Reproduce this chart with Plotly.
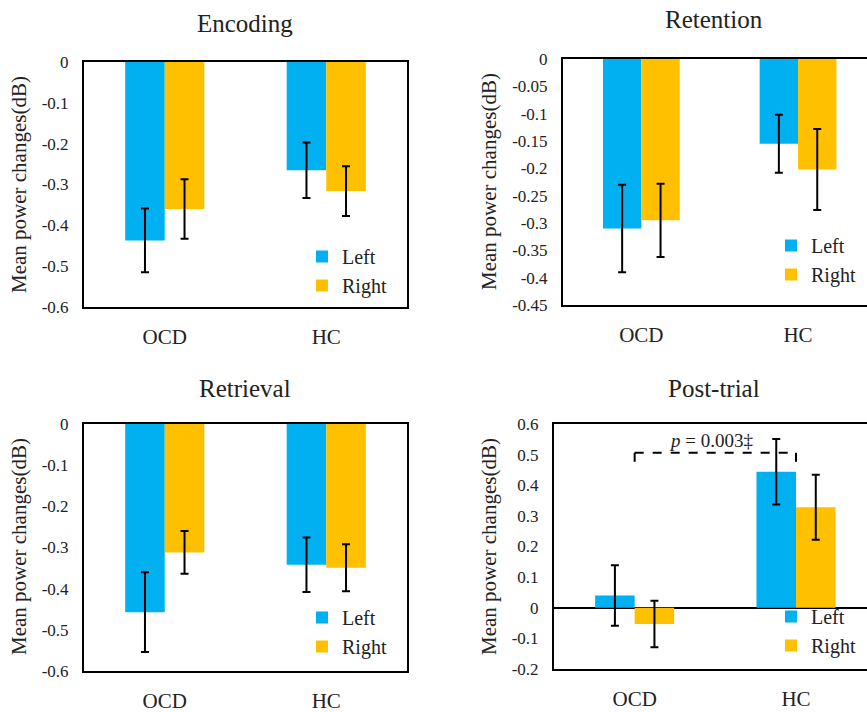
import plotly.graph_objects as go

# ---------------- data ----------------
categories = ["OCD", "HC"]
series_names = ["Left", "Right"]

enc_left = [-0.437, -0.265]
enc_left_err = [0.078, 0.068]
enc_right = [-0.360, -0.316]
enc_right_err = [0.073, 0.061]

ret_left = [-0.310, -0.155]
ret_left_err = [0.080, 0.053]
ret_right = [-0.295, -0.202]
ret_right_err = [0.067, 0.074]

rtv_left = [-0.457, -0.342]
rtv_left_err = [0.097, 0.066]
rtv_right = [-0.312, -0.349]
rtv_right_err = [0.052, 0.057]

post_left = [0.040, 0.444]
post_left_err = [0.099, 0.107]
post_right = [-0.053, 0.328]
post_right_err = [0.076, 0.106]

panel_titles = ["Encoding", "Retention", "Retrieval", "Post-trial"]

ticks_enc = [0, -0.1, -0.2, -0.3, -0.4, -0.5, -0.6]
ticks_enc_text = ["0", "-0.1", "-0.2", "-0.3", "-0.4", "-0.5", "-0.6"]
ticks_ret = [0, -0.05, -0.1, -0.15, -0.2, -0.25, -0.3, -0.35, -0.4, -0.45]
ticks_ret_text = ["0", "-0.05", "-0.1", "-0.15", "-0.2", "-0.25", "-0.3", "-0.35", "-0.4", "-0.45"]
ticks_post = [0.6, 0.5, 0.4, 0.3, 0.2, 0.1, 0, -0.1, -0.2]
ticks_post_text = ["0.6", "0.5", "0.4", "0.3", "0.2", "0.1", "0", "-0.1", "-0.2"]

p_text = "<i>p</i> = 0.003‡"
p_bracket_top = 0.506
p_bracket_end = 0.459

# ---------------- style ----------------
BLUE = "#00B0F0"
GOLD = "#FFC000"
FONT = "'Liberation Serif', 'Times New Roman', Times, serif"
W, H = 867, 712

def px_x(p):
    return p / W

def px_y(p):
    return 1 - p / H

fig = go.Figure()

panels = [
    ("x", "y", "legend", enc_left, enc_left_err, enc_right, enc_right_err),
    ("x2", "y2", "legend2", ret_left, ret_left_err, ret_right, ret_right_err),
    ("x3", "y3", "legend3", rtv_left, rtv_left_err, rtv_right, rtv_right_err),
    ("x4", "y4", "legend4", post_left, post_left_err, post_right, post_right_err),
]

for xa, ya, lg, lv, le, rv, re_ in panels:
    fig.add_trace(go.Bar(
        x=categories, y=lv, name=series_names[0], marker_color=BLUE,
        marker_line_width=0, xaxis=xa, yaxis=ya, legend=lg,
        error_y=dict(type="data", array=le, color="black", thickness=2, width=4),
    ))
    fig.add_trace(go.Bar(
        x=categories, y=rv, name=series_names[1], marker_color=GOLD,
        marker_line_width=0, xaxis=xa, yaxis=ya, legend=lg,
        error_y=dict(type="data", array=re_, color="black", thickness=2, width=4),
    ))

tick_font = dict(family=FONT, size=17, color="#222")
cat_font = dict(family=FONT, size=21, color="#222")

def xaxis(domain, rng):
    return dict(domain=domain, range=rng, type="category", showline=True,
                linecolor="black", linewidth=2, mirror=True, ticks="",
                showgrid=False, zeroline=False, tickfont=cat_font,
                ticklabelstandoff=10, fixedrange=True, automargin=False)

def yaxis(domain, rng, tv, tt, mirror, zeroline=False):
    return dict(domain=domain, range=rng, tickvals=tv, ticktext=tt,
                showline=True, linecolor="black", linewidth=2, mirror=mirror,
                ticks="", showgrid=False, zeroline=zeroline,
                zerolinecolor="black", zerolinewidth=2, automargin=False,
                tickfont=tick_font, ticklabelstandoff=10, fixedrange=True)

fig.update_layout(
    width=W, height=H,
    margin=dict(l=0, r=0, t=0, b=0, pad=0, autoexpand=False),
    paper_bgcolor="white", plot_bgcolor="white",
    barmode="group", bargap=0.51, bargroupgap=0,
    showlegend=True,
    font=dict(family=FONT, color="#222"),
    xaxis=xaxis([px_x(84), px_x(407)], [-0.5, 1.5]),
    yaxis=yaxis([px_y(307), px_y(62)], [-0.6, 0], ticks_enc, ticks_enc_text, True),
    xaxis2=xaxis([px_x(563), 1.0], [-0.5, 1.44]),
    yaxis2=yaxis([px_y(305), px_y(59)], [-0.45, 0], ticks_ret, ticks_ret_text, False),
    xaxis3=xaxis([px_x(84), px_x(407)], [-0.5, 1.5]),
    yaxis3=yaxis([px_y(671), px_y(424)], [-0.6, 0], ticks_enc, ticks_enc_text, True),
    xaxis4=xaxis([px_x(554), 1.0], [-0.5, 1.44]),
    yaxis4=yaxis([px_y(669), px_y(424)], [-0.2, 0.6], ticks_post, ticks_post_text, False, zeroline=True),
)
fig.layout.xaxis2.anchor = "y2"
fig.layout.yaxis2.anchor = "x2"
fig.layout.xaxis3.anchor = "y3"
fig.layout.yaxis3.anchor = "x3"
fig.layout.xaxis4.anchor = "y4"
fig.layout.yaxis4.anchor = "x4"

leg_font = dict(family=FONT, size=20, color="#222")
def legend(xp, bottom):
    return dict(x=px_x(xp), y=px_y(bottom), xanchor="left", yanchor="bottom",
                bgcolor="rgba(0,0,0,0)", font=leg_font, tracegroupgap=0,
                itemclick=False, itemdoubleclick=False)

fig.update_layout(
    legend=legend(302, 305),
    legend2=legend(771, 294),
    legend3=legend(302, 666),
    legend4=legend(771, 665),
)

# panel titles
title_pos = [(245, 24), (714, 19), (245, 388), (714, 388)]
for t, (cx, cy) in zip(panel_titles, title_pos):
    fig.add_annotation(text=t, xref="paper", yref="paper", x=px_x(cx), y=px_y(cy),
                       xanchor="center", yanchor="middle", showarrow=False,
                       font=dict(family=FONT, size=25, color="#222"))

# y-axis titles
ytitle_pos = [(19, 185), (489, 182), (19, 547), (489, 547)]
for cx, cy in ytitle_pos:
    fig.add_annotation(text="Mean power changes(dB)", xref="paper", yref="paper",
                       x=px_x(cx), y=px_y(cy), xanchor="center", yanchor="middle",
                       textangle=-90, showarrow=False,
                       font=dict(family=FONT, size=21, color="#222"))

# significance bracket in Post-trial
dash = dict(color="black", width=2, dash="dash")
fig.add_shape(type="line", xref="x4", yref="y4", x0=0, x1=1,
              y0=p_bracket_top, y1=p_bracket_top, line=dash)
fig.add_shape(type="line", xref="x4", yref="y4", x0=0, x1=0,
              y0=p_bracket_top, y1=p_bracket_end, line=dash)
fig.add_shape(type="line", xref="x4", yref="y4", x0=1, x1=1,
              y0=p_bracket_top, y1=p_bracket_end, line=dash)
fig.add_annotation(text=p_text, xref="x4", yref="y4", x=0.47, y=0.545,
                   xanchor="center", yanchor="middle", showarrow=False,
                   font=dict(family=FONT, size=19, color="#222"))

fig.write_html("out.html")
